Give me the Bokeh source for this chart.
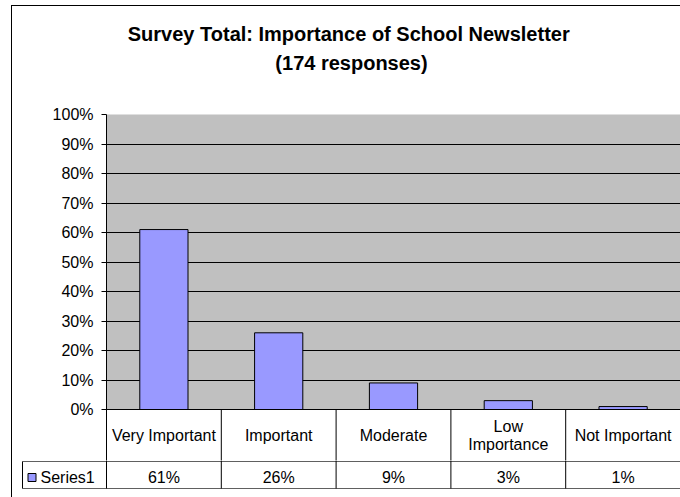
from bokeh.plotting import figure
from bokeh.models import FactorRange, Range1d, FixedTicker, PrintfTickFormatter
from bokeh.layouts import column
from bokeh.core.properties import value
from bokeh.embed import file_html
from bokeh.resources import INLINE

# ---- data ----
categories = ["Very Important", "Important", "Moderate", "Low Importance", "Not Important"]
header_lines = [["Very Important"], ["Important"], ["Moderate"], ["Low", "Importance"], ["Not Important"]]
values = [61, 26, 9, 3, 1]          # percent of 174 responses
series_name = "Series1"
y_ticks = [0, 10, 20, 30, 40, 50, 60, 70, 80, 90, 100]
title_lines = ["Survey Total:  Importance of School Newsletter", "(174 responses)"]

# ---- layout constants (page pixels) ----
ORG_X, ORG_Y = 12, 6            # inside the 1px chart border at (11, 5)
W = 680 - ORG_X
PLOT_L, PLOT_T, PLOT_B = 106, 114, 409
HDR_B, ROW_B = 461, 488
SPLIT1, SPLIT2 = 104, 460       # page y where the stacked canvases meet
N = len(categories)
COL_W = (680 - PLOT_L) / N
Y_PER_PX = 100 / (PLOT_B - PLOT_T)

FONT = "Liberation Sans"
BAR = "#9999FF"
GRIDC = "black"
TBL_H = "#606060"


def xcat(page_x):   # page x -> categorical (synthetic) units
    return (page_x - PLOT_L) / COL_W


def ya(page_y):     # page y -> value axis units
    return (PLOT_B - page_y) * Y_PER_PX


def bare(fig):
    fig.grid.visible = False
    fig.outline_line_color = None
    fig.background_fill_color = "white"
    fig.border_fill_color = "white"


# ---- title canvas ----
t = figure(width=W, height=SPLIT1 - ORG_Y, output_backend="svg", toolbar_location=None,
           x_range=Range1d(ORG_X, 680), y_range=Range1d(SPLIT1, ORG_Y),
           x_axis_location=None, y_axis_location=None, min_border=0)
bare(t)
t.text(x=[351, 351], y=[33, 62], text=title_lines, text_align="center", text_baseline="middle",
       text_font=value(FONT), text_font_size="20px", text_font_style="bold", text_color="black")

# ---- chart canvas (plot area + category header row) ----
p = figure(width=W, height=SPLIT2 - SPLIT1, output_backend="svg", toolbar_location=None,
           x_range=FactorRange(factors=categories, range_padding=0),
           y_range=Range1d(ya(SPLIT2), 100), x_axis_location=None,
           min_border_left=PLOT_L - ORG_X, min_border_right=0,
           min_border_top=PLOT_T - SPLIT1, min_border_bottom=0)
p.background_fill_color = "#C0C0C0"
p.border_fill_color = "white"
p.outline_line_color = None
p.xgrid.visible = False
p.ygrid.grid_line_color = GRIDC
p.ygrid.grid_line_width = 1

yax = p.yaxis[0]
yax.ticker = FixedTicker(ticks=y_ticks)
yax.formatter = PrintfTickFormatter(format="%d%%")
yax.axis_line_color = "black"
yax.major_tick_line_color = "black"
yax.major_tick_out = 5
yax.major_tick_in = 0
yax.minor_tick_out = 0
yax.minor_tick_in = 0
yax.major_label_standoff = 8
yax.major_label_text_font = FONT
yax.major_label_text_font_size = "16px"
yax.major_label_text_color = "black"

p.vbar(x=categories, top=values, width=0.42, fill_color=BAR, line_color="black", line_width=1)

# header row of the data table
p.quad(left=[0], right=[N], bottom=[ya(SPLIT2 + 5)], top=[0], fill_color="white", line_color=None)
p.segment(x0=[0], x1=[N], y0=[0], y1=[0], line_color="black", line_width=1)
p.segment(x0=list(range(N + 1)), x1=list(range(N + 1)), y0=[0] * (N + 1),
          y1=[ya(SPLIT2 + 5)] * (N + 1), line_color="black", line_width=1)
hx, hy, ht = [], [], []
for cat, lines_ in zip(categories, header_lines):
    n = len(lines_)
    for j, s in enumerate(lines_):
        hx.append(cat)
        hy.append(ya(435 + (j - (n - 1) / 2) * 18))
        ht.append(s)
p.text(x=hx, y=hy, text=ht, text_align="center", text_baseline="middle",
       text_font=value(FONT), text_font_size="16px", text_color="black")

# ---- series row of the data table ----
b = figure(width=W, height=497 - SPLIT2, output_backend="svg", toolbar_location=None,
           x_range=Range1d(xcat(ORG_X), N), y_range=Range1d(497, SPLIT2),
           x_axis_location=None, y_axis_location=None, min_border=0)
bare(b)
x_left = xcat(22)
b.segment(x0=[x_left, x_left], x1=[N, N], y0=[HDR_B, ROW_B], y1=[HDR_B, ROW_B],
          line_color=TBL_H, line_width=1)
b.segment(x0=list(range(N + 1)), x1=list(range(N + 1)), y0=[SPLIT2 - 2] * (N + 1),
          y1=[ROW_B] * (N + 1), line_color="black", line_width=1)
b.segment(x0=[x_left], x1=[x_left], y0=[HDR_B], y1=[ROW_B], line_color="black", line_width=1)
b.quad(left=[xcat(27.5)], right=[xcat(35.5)], top=[473], bottom=[481],
       fill_color=BAR, line_color="black", line_width=1)
b.text(x=[xcat(40)], y=[477], text=[series_name], text_align="left", text_baseline="middle",
       text_font=value(FONT), text_font_size="16px", text_color="black")
b.text(x=[i + 0.5 for i in range(N)], y=[477] * N, text=[f"{v}%" for v in values],
       text_align="center", text_baseline="middle",
       text_font=value(FONT), text_font_size="16px", text_color="black")

# nest the title and table canvases so their frames are not aligned with the chart's
layout = column(column(t), p, column(b), spacing=0,
                styles={"margin-left": "11px", "margin-top": "5px",
                        "border-left": "1px solid black", "border-top": "1px solid black"})

open("out.html", "w").write(file_html(layout, INLINE))
